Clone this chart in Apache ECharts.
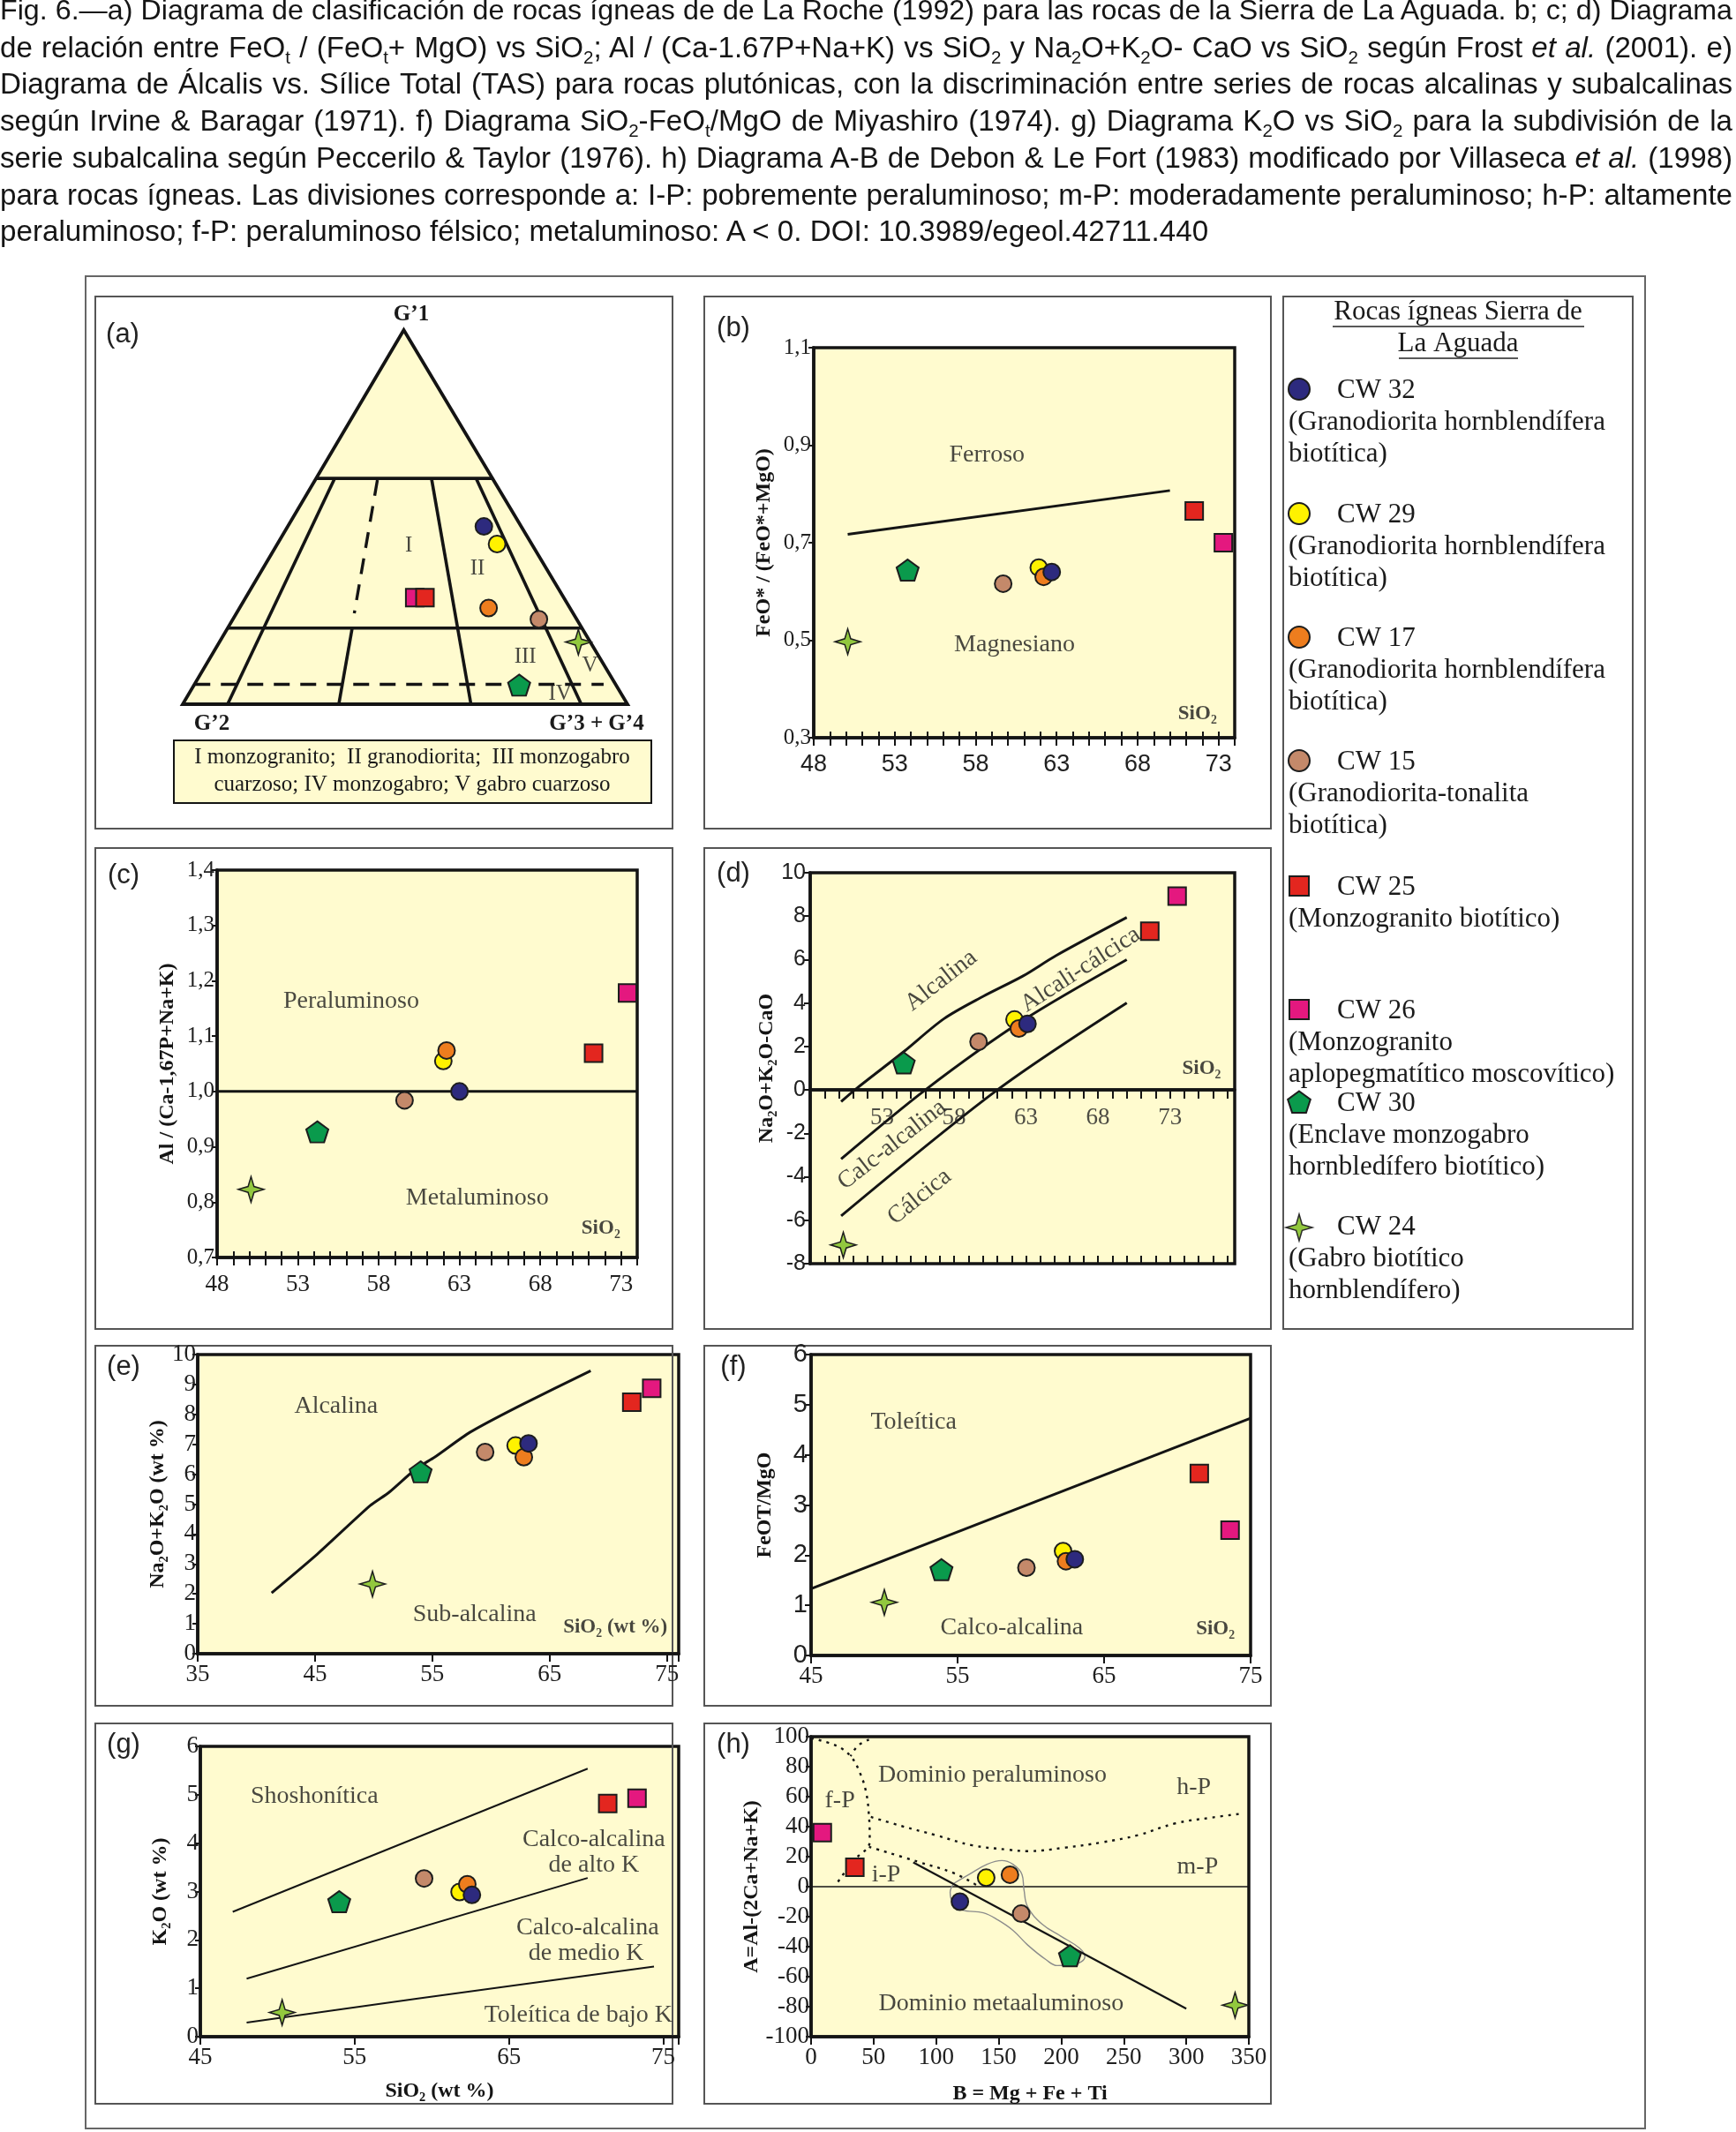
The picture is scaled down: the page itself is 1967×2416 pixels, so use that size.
<!DOCTYPE html>
<html>
<head>
<meta charset="utf-8">
<title>Fig. 6 Sierra de La Aguada</title>
<script src="https://cdn.jsdelivr.net/npm/echarts@6/dist/echarts.min.js"></script>
<style>
  html, body { margin: 0; padding: 0; background: #fff; }
  #fig { position: relative; width: 1967px; height: 2416px; overflow: hidden; }
  #chart { position: absolute; left: 0; top: 0; width: 1967px; height: 2416px; }
  #caption { position: absolute; left: 0; top: -9px; width: 1963px; z-index: 2;
    font-family: "Liberation Sans", Arial, sans-serif; font-size: 33.2px; line-height: 41.7px; color: #151515; }
  #caption div { text-align: justify; text-align-last: justify; white-space: normal; }
  #caption div.last { text-align-last: left; }
  #caption sub { font-size: 0.62em; line-height: 0; vertical-align: -0.35em; }
</style>
</head>
<body>
<div id="fig">
  <div id="chart"></div>
  <div id="caption">
    <div>Fig. 6.—a) Diagrama de clasificación de rocas ígneas de de La Roche (1992) para las rocas de la Sierra de La Aguada. b; c; d) Diagrama</div>
    <div>de relación entre FeO<sub>t</sub> / (FeO<sub>t</sub>+ MgO) vs SiO<sub>2</sub>; Al / (Ca-1.67P+Na+K) vs SiO<sub>2</sub> y Na<sub>2</sub>O+K<sub>2</sub>O- CaO vs SiO<sub>2</sub> según Frost <i>et al.</i> (2001). e)</div>
    <div>Diagrama de Álcalis vs. Sílice Total (TAS) para rocas plutónicas, con la discriminación entre series de rocas alcalinas y subalcalinas</div>
    <div>según Irvine &amp; Baragar (1971). f) Diagrama SiO<sub>2</sub>-FeO<sub>t</sub>/MgO de Miyashiro (1974). g) Diagrama K<sub>2</sub>O vs SiO<sub>2</sub> para la subdivisión de la</div>
    <div>serie subalcalina según Peccerilo &amp; Taylor (1976). h) Diagrama A-B de Debon &amp; Le Fort (1983) modificado por Villaseca <i>et al.</i> (1998)</div>
    <div>para rocas ígneas. Las divisiones corresponde a: I-P: pobremente peraluminoso; m-P: moderadamente peraluminoso; h-P: altamente</div>
    <div class="last">peraluminoso; f-P: peraluminoso félsico; metaluminoso: A &lt; 0. DOI: 10.3989/egeol.42711.440</div>
  </div>
</div>
<script>
// samples, in legend order
const SAMPLES = ['CW 32', 'CW 29', 'CW 17', 'CW 15', 'CW 25', 'CW 26', 'CW 30', 'CW 24'];
const DESCRIPTIONS = [
  ['(Granodiorita hornblendífera', 'biotítica)'],
  ['(Granodiorita hornblendífera', 'biotítica)'],
  ['(Granodiorita hornblendífera', 'biotítica)'],
  ['(Granodiorita-tonalita', 'biotítica)'],
  ['(Monzogranito biotítico)'],
  ['(Monzogranito', 'aplopegmatítico moscovítico)'],
  ['(Enclave monzogabro', 'hornbledífero biotítico)'],
  ['(Gabro biotítico', 'hornblendífero)']
];
const COLORS = ['#2d2a7e', '#fff200', '#ee7d1e', '#c4896a', '#e3261f', '#e4187f', '#0a9a4c', '#92c83e'];
const SHAPES = ['circle', 'circle', 'circle', 'circle', 'rect', 'rect', 'pentagon', 'star'];

// (a) De La Roche ternary, % G'1 and % (G'3 + G'4)
const aG1 = [47.5, 42.8, 25.7, 22.7, 28.5, 28.5, 5.1, 16.6];
const aG34 = [44.1, 49.4, 56.0, 68.8, 40.3, 38.0, 73.1, 80.7];
// (b) SiO2 vs FeO*/(FeO*+MgO)
const bSiO2 = [62.7, 61.9, 62.2, 59.7, 71.5, 73.3, 53.8, 50.1];
const bFe = [0.640, 0.649, 0.630, 0.616, 0.765, 0.700, 0.644, 0.497];
// (c) SiO2 vs ASI
const cSiO2 = [63.0, 62.0, 62.2, 59.6, 71.3, 73.4, 54.2, 50.1];
const cASI = [1.000, 1.055, 1.074, 0.984, 1.069, 1.178, 0.927, 0.823];
// (d) SiO2 vs Na2O+K2O-CaO
const dSiO2 = [63.1, 62.2, 62.5, 59.7, 71.6, 73.5, 54.5, 50.3];
const dMALI = [3.04, 3.24, 2.83, 2.22, 7.31, 8.92, 1.24, -7.14];
const dTickLabels = [53, 58, 63, 68, 73];
// (e) TAS
const eSiO2 = [63.2, 62.1, 62.8, 59.5, 72.0, 73.7, 54.0, 49.9];
const eAlk = [7.03, 6.96, 6.57, 6.74, 8.41, 8.87, 6.08, 2.33];
// (f) SiO2 vs FeOT/MgO
const fSiO2 = [63.0, 62.2, 62.4, 59.7, 71.5, 73.6, 53.9, 50.0];
const fFeMg = [1.92, 2.08, 1.88, 1.75, 3.63, 2.50, 1.71, 1.06];
// (g) SiO2 vs K2O
const gSiO2 = [62.6, 61.8, 62.3, 59.5, 71.4, 73.3, 54.0, 50.3];
const gK2O = [2.93, 2.99, 3.15, 3.27, 4.82, 4.93, 2.79, 0.50];
// (h) A-B
const hB = [119, 140, 159, 168, 35, 9, 207, 339];
const hA = [-10, 6, 8, -18, 13, 36, -46, -79];

// boundary lines
const aTriangle = [[0, 0], [0, 100], [100, 0]];               // [G'1, G'3+G'4]
const aSolid = [
  [[60.35, 0], [60.35, 39.65]],
  [[20.33, 0], [20.33, 79.67]],
  [[60.1, 4.2], [0, 10.1]],
  [[60.1, 26.1], [0, 64.8]],
  [[60.1, 36.2], [0, 89.6]],
  [[20.33, 28.0], [0, 35.1]]
];
const aDashed = [
  [[5.29, 0], [5.29, 92.0]],
  [[59.9, 14.0], [24.3, 26.5]]
];
const bLine = [[50.1, 0.717], [70.0, 0.807]];
const cLine = [[48, 1.0], [74, 1.0]];
const dZero = [[48, 0], [77.5, 0]];
const dLines = [
  [[50.15, -0.54], [51.1, 0.0], [54.5, 1.76], [57.3, 3.28], [60.0, 4.3], [62.8, 5.25], [65.1, 6.19], [70.0, 7.94]],
  [[50.15, -3.18], [56.0, 0.0], [62.8, 3.21], [70.0, 6.0]],
  [[50.15, -5.8], [61.0, 0.0], [70.0, 4.01]]
];
const eLine = [[41.3, 2.03], [45.2, 3.33], [49.7, 4.95], [51.3, 5.39], [53.6, 6.18], [55.2, 6.57], [58.2, 7.40], [62.4, 8.28], [68.5, 9.46]];
const fLine = [[45, 1.33], [75, 4.73]];
const gLines = [
  [[47.1, 2.58], [70.1, 5.54]],
  [[48.0, 1.20], [70.1, 3.28]],
  [[48.0, 0.29], [59.1, 0.79], [74.4, 1.45]]
];
const hDotted = [
  [[0, 99], [20, 94], [31.6, 87], [39, 76], [44, 63], [46.3, 47], [46.9, 31.5], [46.3, 27.6], [34.5, 17.8], [19.8, 1.2]],
  [[46.3, 98], [37.5, 94], [31.6, 87]],
  [[47.8, 46.5], [72.9, 40.3], [99.4, 34.4], [128.9, 27.6], [158.4, 24.6], [173.2, 23.7], [202.7, 26.0], [232.2, 29.5], [261.7, 34.4], [291.2, 42.2], [320.6, 46.1], [344.2, 48.7]],
  [[46.3, 26.6], [84.7, 16.8], [114.2, 9.0], [131.9, 1.2]]
];
const hArrow = [[300, -81.3], [81.7, 16.2]];
const hField = [[114.2, 2.2], [126, 8], [140.7, 14.9], [152.5, 17.4], [161.4, 14.9], [168.7, 8], [170.2, -1.8], [173.2, -13.5],
  [185, -25.2], [199.7, -33], [214.5, -40.9], [218.9, -46.7], [211.5, -51.6], [196.8, -52.6], [187.9, -48.7], [173.2, -38.9],
  [161.4, -29.1], [149.6, -22.3], [137.8, -17.4], [120.1, -15.4], [112.7, -9.6], [111.2, -3.7], [114.2, 2.2]];

const FILL = '#fffbcf';
const INK = '#141414';
const SERIF = '"Liberation Serif", "Times New Roman", serif';
const SANS = '"Liberation Sans", Arial, sans-serif';
const APEX_X = 0.497;   // horizontal position of G'1 in the drawn triangle
const TICK_FONT = 27;
const REGION_FONT = 28;

const PENTAGON = 'path://M0,-10L9.51,-3.09L5.88,8.09L-5.88,8.09L-9.51,-3.09Z';
const STAR = 'path://M0,-10L2.3,-2.3L10,0L2.3,2.3L0,10L-2.3,2.3L-10,0L-2.3,-2.3Z';
const SYMBOL = { circle: 'circle', rect: 'rect', pentagon: PENTAGON, star: STAR };
const SYMBOL_SIZE = { circle: 19, rect: 20, pentagon: [25, 24], star: 29 };
const DRAW_ORDER = [7, 6, 3, 1, 2, 0, 5, 4];

// make each caption line fit the page width before it is justified
document.querySelectorAll('#caption div').forEach(function (d) {
  d.innerHTML = '<span style="white-space:nowrap">' + d.innerHTML + '</span>';
  const s = d.firstChild;
  const w = s.getBoundingClientRect().width;
  if (w > 1958) d.style.fontSize = (33.2 * 1958 / w).toFixed(2) + 'px';
  s.style.whiteSpace = 'normal';
});

function tern(g1, g34) {
  return [(g34 + APEX_X * g1) / 100, g1 / 100];
}

function samplePoints(gi, xs, ys, project) {
  return DRAW_ORDER.map(function (i) {
    return {
      type: 'scatter', name: SAMPLES[i], xAxisIndex: gi, yAxisIndex: gi, z: 5, silent: true,
      symbol: SYMBOL[SHAPES[i]], symbolSize: SYMBOL_SIZE[SHAPES[i]],
      itemStyle: { color: COLORS[i], borderColor: '#1d1d1d', borderWidth: SHAPES[i] === 'star' ? 1.5 : 2, opacity: 1 },
      data: [project ? project(xs[i], ys[i]) : [xs[i], ys[i]]]
    };
  });
}

function lineSeries(gi, pts, style, smooth) {
  return {
    type: 'line', xAxisIndex: gi, yAxisIndex: gi, data: pts, symbol: 'none', silent: true, z: 3,
    smooth: smooth || false,
    lineStyle: Object.assign({ color: INK, width: 3 }, style || {})
  };
}

function textSeries(gi, items) {
  return {
    type: 'scatter', xAxisIndex: gi, yAxisIndex: gi, symbolSize: 1, silent: true, z: 6,
    itemStyle: { color: 'rgba(0,0,0,0)' },
    label: { show: true, position: 'inside', color: '#1a1a1a', fontFamily: SERIF, fontSize: REGION_FONT },
    data: items.map(function (t) {
      return { value: [t[0], t[1]], label: Object.assign({ formatter: t[2] }, t[3] || {}) };
    })
  };
}

const comma = function (v) { return v.toFixed(1).replace('.', ','); };
function every(start, step, lo, hi) {
  return function (v) {
    const k = (v - start) / step;
    if (Math.abs(k - Math.round(k)) > 1e-6 || v < lo - 1e-6 || v > hi + 1e-6) return '';
    return String(Math.round(v));
  };
}

function axis(gi, min, max, interval, fmt, font, o) {
  o = o || {};
  return {
    type: 'value', gridIndex: gi, min: min, max: max, interval: interval,
    position: o.position,
    name: o.name || '', nameLocation: 'middle', nameGap: o.nameGap || 40,
    nameTextStyle: { fontFamily: SERIF, fontWeight: 'bold', fontSize: 24, color: INK },
    axisLine: { show: o.hideLine ? false : true, onZero: !!o.onZero, lineStyle: { color: INK, width: 3.5 } },
    axisTick: { show: true, inside: !!o.tickInside, length: o.tickLength || 9, lineStyle: { color: INK, width: 2 } },
    axisLabel: { show: !o.noLabel, formatter: fmt, fontFamily: font, fontSize: o.fontSize || TICK_FONT, color: '#202020',
      margin: o.margin == null ? 6 : o.margin },
    splitLine: { show: false }
  };
}

const grids = [
  { left: 207, top: 374, width: 504, height: 424 },   // a
  { left: 922, top: 394, width: 477, height: 442 },   // b
  { left: 246, top: 986, width: 476, height: 439 },   // c
  { left: 918, top: 989, width: 481, height: 443 },   // d
  { left: 224, top: 1535, width: 545, height: 339 },  // e
  { left: 919, top: 1535, width: 498, height: 341 },  // f
  { left: 227, top: 1979, width: 542, height: 329 },  // g
  { left: 919, top: 1968, width: 496, height: 340 }   // h
].map(function (g, i) {
  return Object.assign({ show: i > 0, backgroundColor: FILL, borderColor: INK, borderWidth: 3.5 }, g);
});

const xAxes = [
  { type: 'value', gridIndex: 0, min: 0, max: 1, show: false },
  axis(1, 48, 74, 1, every(48, 5, 48, 73), SANS, { margin: 17, position: 'bottom' }),
  axis(2, 48, 74, 1, every(48, 5, 48, 73), SERIF, { margin: 17, position: 'bottom' }),
  axis(3, 48, 77.5, 1, null, SERIF, { onZero: true, noLabel: true, tickLength: 10 }),
  axis(4, 35, 76, 10, every(35, 10, 35, 75), SERIF, { margin: 10 }),
  axis(5, 45, 75, 10, every(45, 10, 45, 75), SERIF, { margin: 10 }),
  axis(6, 45, 76, 10, every(45, 10, 45, 75), SERIF, { margin: 10, name: 'SiO₂ (wt %)', nameGap: 50 }),
  axis(7, 0, 350, 50, every(0, 50, 0, 350), SERIF, { margin: 10, name: 'B = Mg + Fe + Ti', nameGap: 53 }),
  // inward halves of the crossing ticks on b, c and d
  axis(1, 48, 74, 1, null, SANS, { tickInside: true, hideLine: true, noLabel: true, tickLength: 7, position: 'bottom' }),
  axis(2, 48, 74, 1, null, SANS, { tickInside: true, hideLine: true, noLabel: true, tickLength: 7, position: 'bottom' }),
  axis(3, 48, 77.5, 1, null, SANS, { tickInside: true, hideLine: true, noLabel: true, tickLength: 9, onZero: true, position: 'bottom' })
];

const yAxes = [
  { type: 'value', gridIndex: 0, min: 0, max: 1, show: false },
  axis(1, 0.3, 1.1, 0.2, comma, SERIF, { name: 'FeO* / (FeO*+MgO)', nameGap: 44, margin: 3, tickLength: 6, fontSize: 25 }),
  axis(2, 0.7, 1.4, 0.1, comma, SERIF, { name: 'Al / (Ca-1,67P+Na+K)', nameGap: 44, margin: 3, tickLength: 6, fontSize: 25 }),
  axis(3, -8, 10, 2, null, SANS, { name: 'Na₂O+K₂O-CaO', nameGap: 36, margin: 5, tickLength: 7, fontSize: 25 }),
  axis(4, 0, 10, 1, null, SERIF, { name: 'Na₂O+K₂O (wt %)', nameGap: 30, margin: 2, tickLength: 6 }),
  axis(5, 0, 6, 1, null, SANS, { name: 'FeOT/MgO', nameGap: 40, margin: 4, tickLength: 7, fontSize: 29 }),
  axis(6, 0, 6, 1, null, SERIF, { name: 'K₂O (wt %)', nameGap: 33, margin: 2, tickLength: 6 }),
  axis(7, -100, 100, 20, null, SERIF, { name: 'A=Al-(2Ca+Na+K)', nameGap: 44, margin: 2, tickLength: 6 })
];
yAxes.forEach(function (a, i) { if (i > 0) a.nameRotate = 90; });

const series = [];

// (a) ternary
series.push({
  type: 'custom', xAxisIndex: 0, yAxisIndex: 0, z: 1, silent: true, data: [[0, 0]],
  renderItem: function (params, api) {
    return {
      type: 'polygon',
      shape: { points: aTriangle.map(function (p) { return api.coord(tern(p[0], p[1])); }) },
      style: { fill: FILL, stroke: INK, lineWidth: 3.8, lineJoin: 'miter' }
    };
  }
});
aSolid.forEach(function (seg) {
  series.push(lineSeries(0, seg.map(function (p) { return tern(p[0], p[1]); }), { width: 3.6 }));
});
aDashed.forEach(function (seg) {
  series.push(lineSeries(0, seg.map(function (p) { return tern(p[0], p[1]); }), { width: 3.4, type: [18, 12] }));
});
series.push(textSeries(0, [
  tern(42.3, 29.8).concat(['I']), tern(36.2, 48.3).concat(['II']), tern(12.7, 70.7).concat(['III']),
  tern(10.2, 86.5).concat(['V']), tern(2.7, 83.5).concat(['IV'])
].map(function (t) { return [t[0], t[1], t[2], { fontSize: 25 }]; })));
series.push.apply(series, samplePoints(0, aG1, aG34, tern));

// (b)
series.push(lineSeries(1, bLine));
series.push(textSeries(1, [[58.7, 0.879, 'Ferroso'], [60.4, 0.49, 'Magnesiano'],
  [71.7, 0.349, 'SiO₂', { fontWeight: 'bold', fontSize: 23 }]]));
series.push.apply(series, samplePoints(1, bSiO2, bFe));

// (c)
series.push(lineSeries(2, cLine));
series.push(textSeries(2, [[56.3, 1.163, 'Peraluminoso'], [64.1, 0.807, 'Metaluminoso'],
  [71.75, 0.753, 'SiO₂', { fontWeight: 'bold', fontSize: 23 }]]));
series.push.apply(series, samplePoints(2, cSiO2, cASI));

// (d) the SiO2 axis sits on zero, so its labels are placed next to that line
series.push(lineSeries(3, dZero, { width: 3.5 }));
dLines.forEach(function (l) { series.push(lineSeries(3, l, null, 0.3)); });
series.push(textSeries(3, [
  [57.1, 5.03, 'Alcalina', { rotate: 38 }], [66.8, 5.54, 'Alcali-cálcica', { rotate: 33 }],
  [53.7, -2.53, 'Calc-alcalina', { rotate: 38 }], [55.6, -4.93, 'Cálcica', { rotate: 39 }],
  [75.2, 0.96, 'SiO₂', { fontWeight: 'bold', fontSize: 23 }]]
  .concat(dTickLabels.map(function (v) { return [v, -1.3, String(v), { fontSize: TICK_FONT, color: '#202020' }]; }))));
series.push.apply(series, samplePoints(3, dSiO2, dMALI));

// (e)
series.push(lineSeries(4, eLine, null, 0.2));
series.push(textSeries(4, [[46.8, 8.28, 'Alcalina'], [58.6, 1.32, 'Sub-alcalina'],
  [70.6, 0.88, 'SiO₂ (wt %)', { fontWeight: 'bold', fontSize: 23 }]]));
series.push.apply(series, samplePoints(4, eSiO2, eAlk));

// (f)
series.push(lineSeries(5, fLine));
series.push(textSeries(5, [[52.0, 4.65, 'Toleítica'], [58.7, 0.55, 'Calco-alcalina'],
  [72.6, 0.52, 'SiO₂', { fontWeight: 'bold', fontSize: 23 }]]));
series.push.apply(series, samplePoints(5, fSiO2, fFeMg));

// (g)
gLines.forEach(function (l) { series.push(lineSeries(6, l, { width: 2 }, 0.3)); });
series.push(textSeries(6, [[52.4, 4.97, 'Shoshonítica'], [70.5, 4.08, 'Calco-alcalina'], [70.5, 3.54, 'de alto K'],
  [70.1, 2.25, 'Calco-alcalina'], [70.0, 1.72, 'de medio K'], [69.5, 0.45, 'Toleítica de bajo K']]));
series.push.apply(series, samplePoints(6, gSiO2, gK2O));

// (h)
const hZero = lineSeries(7, [[0, 0], [350, 0]], { width: 1.6 });
hZero.markLine = {
  silent: true, symbol: ['none', 'arrow'], symbolSize: [0, 22], animation: false,
  label: { show: false },
  lineStyle: { color: INK, width: 2.2, type: 'solid' },
  data: [[{ coord: hArrow[0] }, { coord: hArrow[1] }]]
};
series.push(hZero);
hDotted.forEach(function (l) { series.push(lineSeries(7, l, { width: 2.4, type: [3, 6] }, 0.4)); });
series.push(lineSeries(7, hField, { width: 1.4, color: '#8c8c8c' }, 0.4));
series.push(textSeries(7, [[145, 74.5, 'Dominio peraluminoso'], [306, 66, 'h-P'], [309, 13, 'm-P'],
  [23, 57, 'f-P'], [60, 8, 'i-P'], [152, -78, 'Dominio metaaluminoso']]));
series.push.apply(series, samplePoints(7, hB, hA));

// frames, panel letters, ternary captions and legend
const graphic = [];
function frame(x, y, w, h, color) {
  graphic.push({ type: 'rect', silent: true, shape: { x: x, y: y, width: w, height: h },
    style: { fill: 'none', stroke: color || '#555', lineWidth: 2 }, z: 0 });
}
function text(x, y, str, style) {
  graphic.push({ type: 'text', silent: true, x: x, y: y, z: 10,
    style: Object.assign({ text: str, fill: '#1a1a1a', fontFamily: SERIF, fontSize: 31, align: 'left', verticalAlign: 'middle' }, style || {}) });
}
frame(97, 313, 1767, 2099, '#666');
frame(108, 336, 654, 603); frame(798, 336, 642, 603); frame(1454, 336, 396, 1170);
frame(108, 961, 654, 545); frame(798, 961, 642, 545);
frame(108, 1525, 654, 408); frame(798, 1525, 642, 408);
frame(108, 1953, 654, 431); frame(798, 1953, 642, 431);

[['(a)', 139, 379], ['(b)', 831, 372], ['(c)', 140, 992], ['(d)', 831, 990],
 ['(e)', 140, 1549], ['(f)', 831, 1549], ['(g)', 140, 1977], ['(h)', 831, 1977]].forEach(function (p) {
  text(p[1], p[2], p[0], { fontFamily: SANS, fontSize: 31, align: 'center', fill: '#222' });
});

text(466, 357, 'G’1', { fontWeight: 'bold', fontSize: 25, align: 'center' });
text(240, 821, 'G’2', { fontWeight: 'bold', fontSize: 25, align: 'center' });
text(676, 821, 'G’3 + G’4', { fontWeight: 'bold', fontSize: 25, align: 'center' });
graphic.push({ type: 'rect', silent: true, z: 1, shape: { x: 197, y: 839, width: 541, height: 71 },
  style: { fill: FILL, stroke: INK, lineWidth: 2 } });
text(467, 858, 'I monzogranito;  II granodiorita;  III monzogabro', { fontSize: 25, align: 'center' });
text(467, 889, 'cuarzoso; IV monzogabro; V gabro cuarzoso', { fontSize: 25, align: 'center' });

// legend panel
text(1652, 354, 'Rocas ígneas Sierra de', { align: 'center' });
text(1652, 390, 'La Aguada', { align: 'center' });
graphic.push({ type: 'line', silent: true, shape: { x1: 1510, y1: 370, x2: 1795, y2: 370 }, style: { stroke: '#222', lineWidth: 1.6 } });
graphic.push({ type: 'line', silent: true, shape: { x1: 1585, y1: 406, x2: 1720, y2: 406 }, style: { stroke: '#222', lineWidth: 1.6 } });

const legendY = [443, 584, 724, 864, 1006, 1146, 1251, 1391];
SAMPLES.forEach(function (name, i) {
  const cy = legendY[i], cx = 1472;
  const st = { fill: COLORS[i], stroke: '#1d1d1d', lineWidth: 2 };
  if (SHAPES[i] === 'circle') {
    graphic.push({ type: 'circle', silent: true, z: 10, shape: { cx: cx, cy: cy - 2, r: 12 }, style: st });
  } else if (SHAPES[i] === 'rect') {
    graphic.push({ type: 'rect', silent: true, z: 10, shape: { x: cx - 11, y: cy - 13, width: 22, height: 22 }, style: st });
  } else if (SHAPES[i] === 'pentagon') {
    const pts = [];
    for (let k = 0; k < 5; k++) {
      const ang = -Math.PI / 2 + k * 2 * Math.PI / 5;
      pts.push([cx + 13.5 * Math.cos(ang), cy - 1 + 13.5 * Math.sin(ang)]);
    }
    graphic.push({ type: 'polygon', silent: true, z: 10, shape: { points: pts }, style: st });
  } else {
    const r = 15, q = 3.4;
    graphic.push({ type: 'polygon', silent: true, z: 10, shape: { points: [
      [cx, cy - r], [cx + q, cy - q], [cx + r, cy], [cx + q, cy + q], [cx, cy + r], [cx - q, cy + q], [cx - r, cy], [cx - q, cy - q]] },
      style: { fill: COLORS[i], stroke: '#2a2a2a', lineWidth: 1.5 } });
  }
  text(1515, cy, name);
  DESCRIPTIONS[i].forEach(function (line, j) { text(1460, cy + 36 + 35.5 * j, line); });
});

const chart = echarts.init(document.getElementById('chart'), null, { renderer: 'canvas' });
chart.setOption({
  backgroundColor: '#ffffff',
  animation: false,
  grid: grids,
  xAxis: xAxes,
  yAxis: yAxes,
  series: series,
  graphic: graphic
});
</script>
</body>
</html>
